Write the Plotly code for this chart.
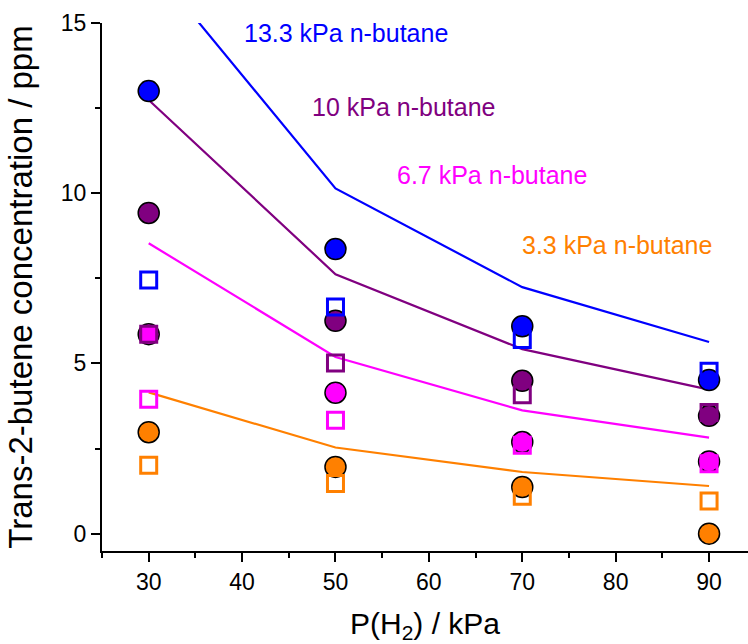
import plotly.graph_objects as go

x_h2 = [30, 50, 70, 90]

# model lines
line_133 = [16.8, 10.14, 7.24, 5.63]
line_10 = [12.74, 7.62, 5.42, 4.23]
line_67 = [8.53, 5.19, 3.62, 2.82]
line_33 = [4.15, 2.53, 1.81, 1.40]

# filled circles
circ_133 = [13.0, 8.36, 6.09, 4.51]
circ_10 = [9.42, 6.25, 4.49, 3.46]
circ_67 = [5.86, 4.14, 2.69, 2.12]
circ_33 = [2.98, 1.96, 1.37, 0.0]

# open squares
sq_133 = [7.45, 6.66, 5.70, 4.77]
sq_10 = [5.86, 5.01, 4.08, 3.56]
sq_67 = [3.95, 3.33, 2.60, 2.05]
sq_33 = [2.01, 1.47, 1.10, 0.96]

labels = ["13.3 kPa n-butane", "10 kPa n-butane", "6.7 kPa n-butane", "3.3 kPa n-butane"]
label_x = [51.15, 57.26, 66.8, 80.09]
label_y = [14.71, 12.54, 10.54, 8.48]

colors = ["#0000FF", "#800080", "#FF00FF", "#FF8000"]
lines = [line_133, line_10, line_67, line_33]
circs = [circ_133, circ_10, circ_67, circ_33]
sqs = [sq_133, sq_10, sq_67, sq_33]

fig = go.Figure()
for ln, c in zip(lines, colors):
    fig.add_trace(go.Scatter(x=x_h2, y=ln, mode="lines",
                             line=dict(color=c, width=2.2), showlegend=False))
for cy, c in zip(circs, colors):
    fig.add_trace(go.Scatter(x=x_h2, y=cy, mode="markers",
                             marker=dict(symbol="circle", size=21, color=c,
                                         line=dict(color="black", width=1.5)),
                             showlegend=False, cliponaxis=False))
for sy, c in zip(sqs, colors):
    fig.add_trace(go.Scatter(x=x_h2, y=sy, mode="markers",
                             marker=dict(symbol="square-open", size=16, color=c,
                                         line=dict(color=c, width=3)),
                             showlegend=False, cliponaxis=False))

for t, lx, ly, c in zip(labels, label_x, label_y, colors):
    fig.add_annotation(x=lx, y=ly, text=t, showarrow=False,
                       font=dict(color=c, size=25, family="Liberation Sans, Arial"))

fig.update_layout(
    width=748, height=644, autosize=False,
    margin=dict(l=102, r=0, t=23, b=93),
    plot_bgcolor="white", paper_bgcolor="white",
    font=dict(family="Liberation Sans, Arial", color="black"),
)
fig.update_xaxes(
    range=[25, 94.17], showgrid=False, zeroline=False,
    showline=True, linecolor="black", linewidth=2,
    ticks="outside", ticklen=9, tickwidth=2, tickcolor="black",
    tick0=0, dtick=10, tickfont=dict(size=23),
    minor=dict(ticks="outside", ticklen=5, tickwidth=2, tickcolor="black", dtick=5, tick0=0),
    title=dict(text="P(H<sub>2</sub>) / kPa", font=dict(size=30), standoff=22),
)
fig.update_yaxes(
    range=[-0.51, 15], showgrid=False, zeroline=False,
    showline=True, linecolor="black", linewidth=2,
    ticks="outside", ticklen=9, tickwidth=2, tickcolor="black",
    tick0=0, dtick=5, tickfont=dict(size=23),
    minor=dict(ticks="outside", ticklen=5, tickwidth=2, tickcolor="black", dtick=2.5, tick0=0),
    title=dict(text="Trans-2-butene concentration / ppm", font=dict(size=33), standoff=18),
)

fig.write_html("out.html")
